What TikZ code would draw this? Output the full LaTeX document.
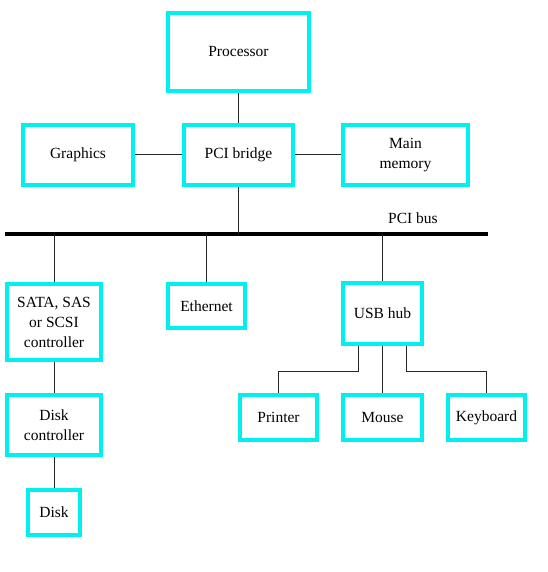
\documentclass[tikz,border=0pt]{standalone}
\usepackage{fontspec}
\setmainfont{Liberation Serif}
\definecolor{boxcyan}{RGB}{0,240,240}
\begin{document}
\begin{tikzpicture}[x=1pt,y=-1pt,
  box/.style={draw=boxcyan, line width=4pt, rectangle, inner sep=0pt, align=center,
    font=\fontsize{15.5}{20}\selectfont},
  wire/.style={draw=black!85, line width=1pt},
  bus/.style={draw=black, line width=4pt}]
\useasboundingbox (0,0) rectangle (547,572);
\node[box, minimum width=141, minimum height=78] (proc) at (238.5,52) {Processor};
\node[box, minimum width=110, minimum height=60] (gfx) at (78,155) {Graphics};
\node[box, minimum width=109, minimum height=60] (bridge) at (238.5,155) {PCI bridge};
\node[box, minimum width=125, minimum height=60] (mem) at (405.5,155) {Main\\memory};
\coordinate (busL) at (5,234);
\coordinate (busR) at (488,234);
\node[font=\fontsize{15.5}{20}\selectfont, inner sep=0pt] (buslabel) at (413,218) {PCI bus};
\node[box, minimum width=94, minimum height=76] (sata) at (54,322) {SATA, SAS\\or SCSI\\controller};
\node[box, minimum width=77, minimum height=44] (eth) at (206.5,306) {Ethernet};
\node[box, minimum width=79, minimum height=61] (usb) at (382.5,313.5) {USB hub};
\node[box, minimum width=94, minimum height=60] (dc) at (54,425) {Disk\\controller};
\node[box, minimum width=52, minimum height=45] (disk) at (54,512.5) {Disk};
\node[box, minimum width=77, minimum height=45] (printer) at (278.5,417.5) {Printer};
\node[box, minimum width=79, minimum height=45] (mouse) at (382.5,417.5) {Mouse};
\node[box, minimum width=77, minimum height=45] (kbd) at (486.5,417.5) {Keyboard};
\draw[bus] (busL) -- (busR);
\draw[wire] (proc.south) -- (bridge.north);
\draw[wire] (gfx.east) -- (bridge.west);
\draw[wire] (bridge.east) -- (mem.west);
\draw[wire] (bridge.south) -- (bridge.south |- busL);
\draw[wire] (sata.north) -- (sata.north |- busL);
\draw[wire] (eth.north) -- (eth.north |- busL);
\draw[wire] (usb.north) -- (usb.north |- busL);
\draw[wire] (sata.south) -- (dc.north);
\draw[wire] (dc.south) -- (disk.north);
\draw[wire] ([xshift=-24]usb.south) -- ++(0,25) -| (printer.north);
\draw[wire] (usb.south) -- (mouse.north);
\draw[wire] ([xshift=24]usb.south) -- ++(0,25) -| (kbd.north);
\end{tikzpicture}
\end{document}
